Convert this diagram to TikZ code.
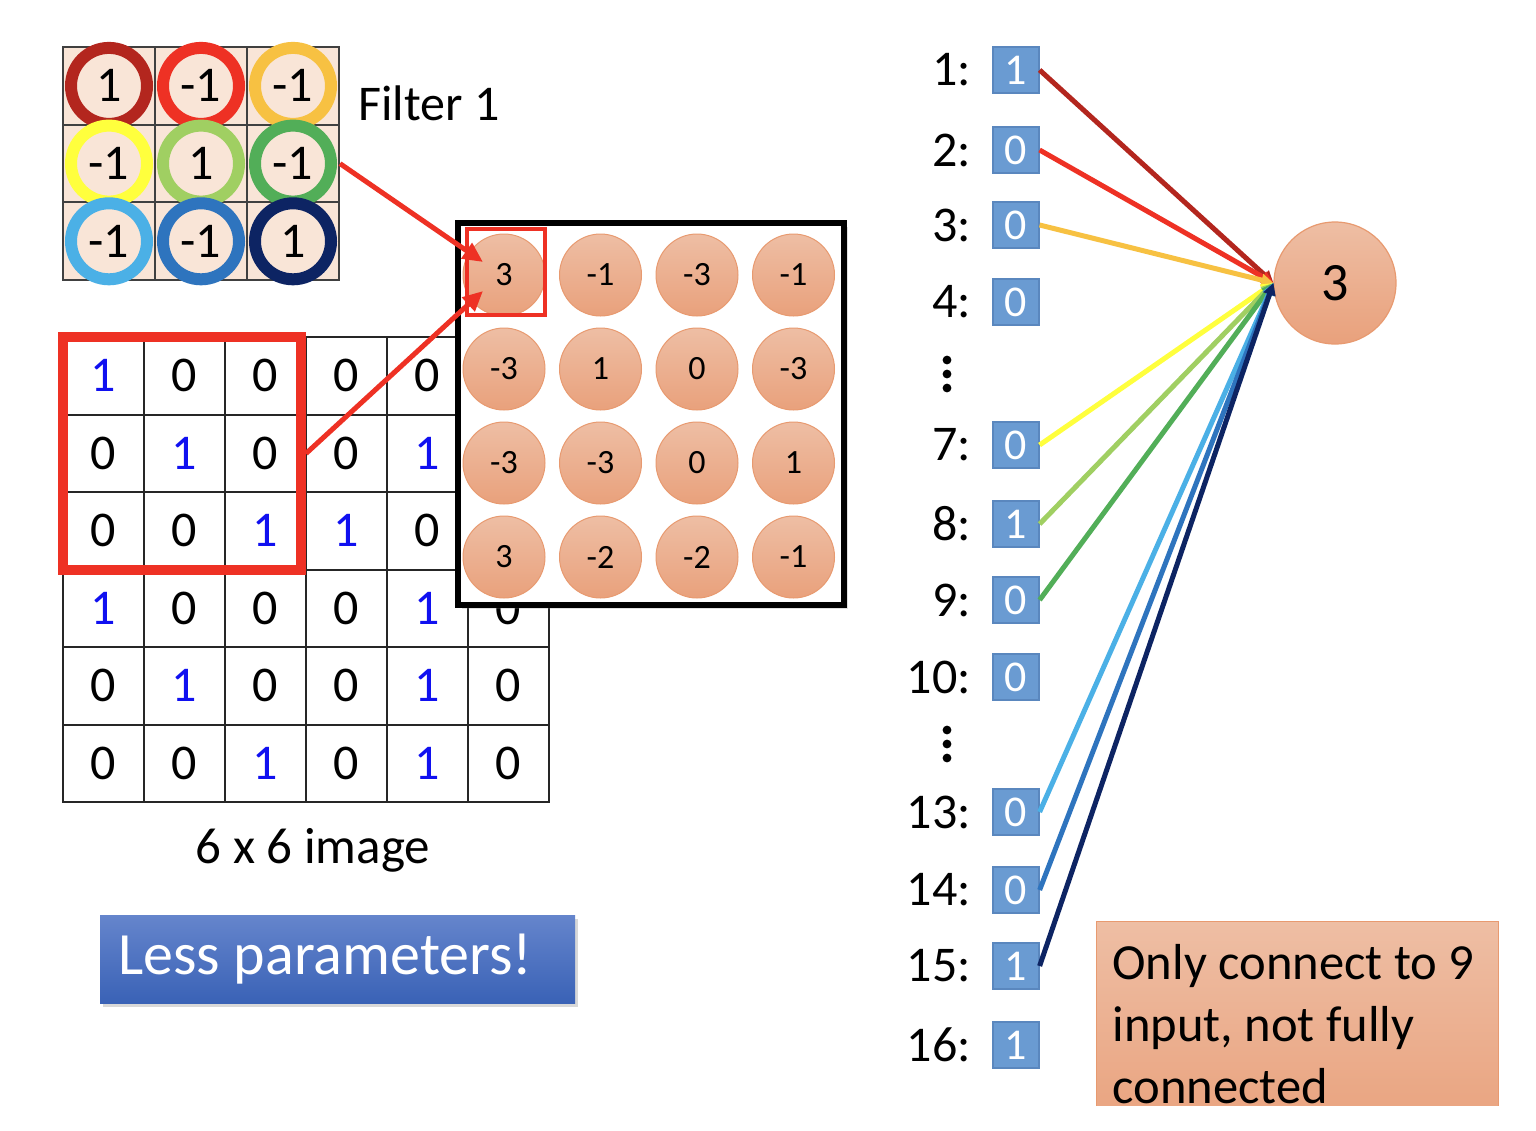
\documentclass[tikz,border=0pt]{standalone}
\usepackage{fontspec}
\setmainfont{Carlito}
\usetikzlibrary{positioning, arrows.meta, shadows}

\definecolor{w1}{HTML}{B3261E}
\definecolor{w2}{HTML}{EE3124}
\definecolor{w3}{HTML}{F7C142}
\definecolor{w4}{HTML}{FFFF3D}
\definecolor{w5}{HTML}{A0CF62}
\definecolor{w6}{HTML}{52AE58}
\definecolor{w7}{HTML}{4BB0E6}
\definecolor{w8}{HTML}{2E74BE}
\definecolor{w9}{HTML}{0D2463}
\definecolor{peach}{HTML}{F9E5D7}
\definecolor{pixblue}{HTML}{1010F0}
\definecolor{inblue}{HTML}{6A9BD2}
\definecolor{inedge}{HTML}{5A87BE}
\definecolor{salmontop}{HTML}{EEBEA4}
\definecolor{salmonbot}{HTML}{E9A17C}
\definecolor{salmonedge}{HTML}{E89A70}
\definecolor{btntop}{HTML}{6585CC}
\definecolor{btnbot}{HTML}{3A62B6}

\begin{document}
\begin{tikzpicture}[x=0.5pt, y=-0.5pt,
    fcell/.style={draw=black!75, line width=1pt, fill=peach, minimum width=46pt, minimum height=38.9pt, inner sep=0, font=\fontsize{25pt}{30pt}\selectfont},
    ring/.style={line width=6pt},
    imgcell/.style={draw=black!85, line width=1pt, minimum width=40.5pt, minimum height=38.75pt, inner sep=0, font=\fontsize{25pt}{30pt}\selectfont},
    redframe/.style={draw=w2, inner sep=0},
    fmapunit/.style={circle, draw=salmonedge, line width=0.5pt, top color=salmontop, bottom color=salmonbot, minimum size=41pt, inner sep=0, font=\fontsize{17pt}{20pt}\selectfont},
    redarrow/.style={draw=w2, line width=2.5pt, -{Triangle[length=10pt,width=9pt]}},
    inbox/.style={draw=inedge, line width=0.6pt, fill=inblue, text=white, minimum size=23pt, inner sep=0, font=\fontsize{22pt}{26pt}\selectfont},
    inlabel/.style={inner sep=0, font=\fontsize{25pt}{30pt}\selectfont},
    conn/.style={line width=2.5pt, -{Triangle[length=6pt,width=6pt]}},
    neuron/.style={circle, draw=salmonedge, line width=0.6pt, top color=salmontop, bottom color=salmonbot, minimum size=61pt, inner sep=0, font=\fontsize{27pt}{30pt}\selectfont},
    node distance=10.5pt
  ]
  \fill[white] (0,0) rectangle (1536,1130);
  \useasboundingbox (0,0) rectangle (1536,1130);

  % filter cells
  \foreach \r/\c in {1/1,1/2,1/3,2/1,2/2,2/3,3/1,3/2,3/3}
  {
    \node[fcell] (f-\r-\c) at (17+92*\c, 8.2+77.7*\r) {};
  }
  % coloured rings
  \foreach \r/\c/\v/\col in {1/1/1/w1,1/2/-1/w2,1/3/-1/w3,2/1/-1/w4,2/2/1/w5,2/3/-1/w6,3/1/-1/w7,3/2/-1/w8,3/3/1/w9}
  {
    \draw[ring, draw=\col] (f-\r-\c.center) circle (19pt);
    \node[inner sep=0, font=\fontsize{25pt}{30pt}\selectfont] at (f-\r-\c.center) {\v};
  }
  \node[anchor=west, inner sep=0, font=\fontsize{25pt}{29pt}\selectfont] (ftitle) at (358,103) {Filter 1};

  % 6 x 6 image (cells under the feature map stay empty)
  \foreach \row [count=\r] in {{1,0,0,0,0,},{0,1,0,0,1,},{0,0,1,1,0,},{1,0,0,0,1,0},{0,1,0,0,1,0},{0,0,1,0,1,0}}
  {
    \foreach \v [count=\c] in \row
    {
      \node[imgcell] (i-\r-\c) at (22.5+81*\c, 298.25+77.5*\r) {\ifx\v\empty\else\ifnum\v=1 \textcolor{pixblue}{1}\else 0\fi\fi};
    }
  }
  \node[redframe, line width=5pt, minimum width=119pt, minimum height=116.5pt] (win) at (182,453.5) {};
  \node[font=\fontsize{25.5pt}{30pt}\selectfont] (imgtitle) at (313,850) {6 x 6 image};

  % feature map
  \node[draw=black, line width=3pt, fill=white, minimum width=193pt, minimum height=191pt,
        drop shadow={opacity=0.25, shadow xshift=2pt, shadow yshift=-2pt}] (fmap) at (651,414) {};
  \foreach \row [count=\r] in {{3,-1,-3,-1},{-3,1,0,-3},{-3,-3,0,1},{3,-2,-2,-1}}
  {
    \foreach \v [count=\c] in \row
    {
      \node[fmapunit] (o-\r-\c) at (407.5+96.5*\c, 181+94*\r) {\v};
    }
  }
  \node[redframe, line width=2pt, minimum width=39pt, minimum height=43pt] (pick) at (506,272) {};

  \coordinate (tipA) at (483,262);
  \coordinate (tipB) at (483,291);
  \draw[redarrow] (f-2-3.east) -- (tipA);
  \draw[redarrow] (win.east) -- (tipB);

  % button
  \node[top color=btntop, bottom color=btnbot, minimum width=237.5pt, minimum height=44pt, inner sep=0,
        drop shadow={opacity=0.3, shadow xshift=1.5pt, shadow yshift=-2pt}] (btn) at (337.5,959) {};
  \node[anchor=west, inner sep=0, text=white, font=\fontsize{30pt}{34pt}\selectfont] (btntext) at (118,959) {Less parameters!};

  % inputs
  \foreach \n/\v/\y in {1/1/70,2/0/150,3/0/225,4/0/302,7/0/445,8/1/524,9/0/600,10/0/677,13/0/812,14/0/890,15/1/966,16/1/1045}
  {
    \node[inbox] (in\n) at (1016,\y) {\v};
    \node[inlabel, left=of in\n] (lab\n) {\n:};
  }
  % dots
  \foreach \y in {360,374,388,730,744,758}
  {
    \fill (947,\y) circle (2.2pt);
  }

  \node[neuron] (out) at (1335,283) {3};
  \foreach \n/\col in {1/w1,2/w2,3/w3,7/w4,8/w5,9/w6,13/w7,14/w8,15/w9}
  {
    \draw[conn, draw=\col, fill=\col] (in\n.east) -- (out.west);
  }

  % note, cut at the bottom
  \begin{scope}
    \clip (0,0) rectangle (1536,1105);
    \fill (947,1111) circle (2.2pt);
    \node[draw=salmonedge, line width=0.6pt, top color=salmontop, bottom color=salmonbot, minimum width=201pt, minimum height=110pt, anchor=north west, inner sep=0] (note) at (1096,921) {};
    \node[anchor=north west, align=left, inner sep=0, font=\fontsize{25.3pt}{31pt}\selectfont] (notetext) at (1112,944) {Only connect to 9\\input, not fully\\connected};
  \end{scope}
\end{tikzpicture}
\end{document}
